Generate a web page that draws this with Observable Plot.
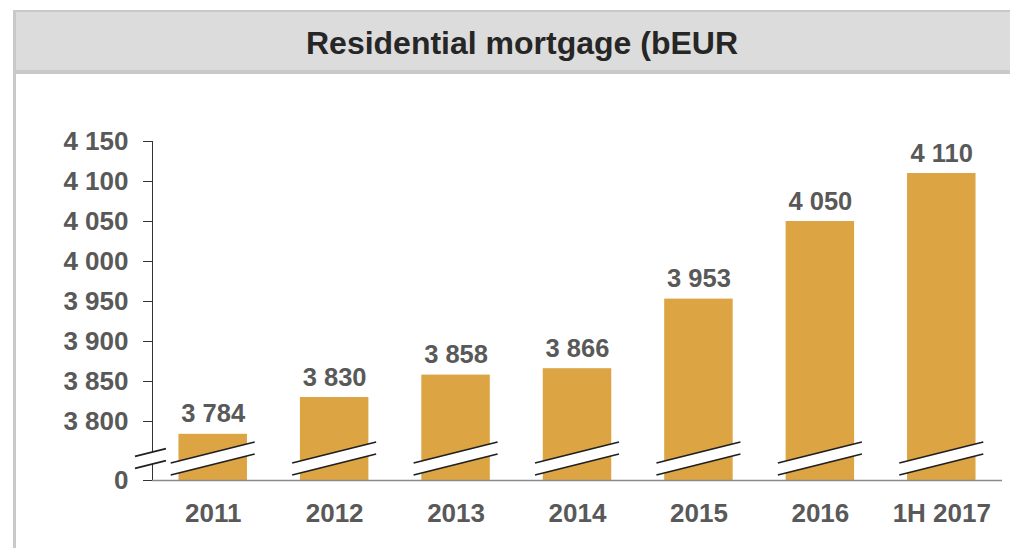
<!DOCTYPE html>
<html>
<head>
<meta charset="utf-8">
<script src="https://cdn.jsdelivr.net/npm/d3@7"></script>
<script src="https://cdn.jsdelivr.net/npm/@observablehq/plot@0.6"></script>
<style>
  html, body { margin: 0; padding: 0; background: #fff; width: 1010px; height: 548px; overflow: hidden; }
  body { position: relative; font-family: "Liberation Sans", Arial, sans-serif; }
  #frame { position: absolute; left: 13px; top: 10px; width: 997px; height: 538px; border-left: 3px solid #c9c9c9; box-sizing: border-box; }
  #titlebar { position: absolute; left: 13px; top: 10px; width: 997px; height: 64px; background: #dcdcdc;
              border-top: 2px solid #c9c9c9; border-bottom: 4px solid #c9c9c9; border-left: 3px solid #c9c9c9; box-sizing: border-box; }
  #title { position: absolute; left: 0; top: 15px; width: 994px; padding-left: 18px; box-sizing: border-box; text-align: center;
           font-size: 32px; line-height: 32px; font-weight: bold; color: #262626; white-space: nowrap; }
  #chart { position: absolute; left: 0; top: 75px; }
</style>
</head>
<body>
<div id="frame"></div>
<div id="titlebar"><div id="title">Residential mortgage (bEUR</div></div>
<div id="chart"></div>
<script>
// ---- data ----
const periods = ["2011", "2012", "2013", "2014", "2015", "2016", "1H 2017"];
const values = [3784, 3830, 3858, 3866, 3953, 4050, 4110];
const yTicks = [0, 3800, 3850, 3900, 3950, 4000, 4050, 4100, 4150];
const yBreakDomain = [0, 3740, 4150]; // broken axis: 0, then continuous from 3740 up

const data = periods.map((p, i) => ({period: p, value: values[i]}));
const fmt = v => d3.format(",")(v).replace(/,/g, " ");

const W = 1010, H = 473;
const mTop = 66, mBottom = 68, mLeft = 152, mRight = 8;
const base = H - mBottom;         // pixel of 0
const breakPx = base - 11;        // pixel where the continuous part begins

const chart = Plot.plot({
  width: W,
  height: H,
  marginTop: mTop,
  marginBottom: mBottom,
  marginLeft: mLeft,
  marginRight: mRight,
  style: {
    background: "transparent",
    fontFamily: "'Liberation Sans', Arial, sans-serif",
    fontSize: "26px",
    fontWeight: "bold",
    color: "#333"
  },
  x: {
    domain: periods,
    paddingInner: 0.436,
    paddingOuter: 0.218,
    round: false,
    tickSize: 0,
    tickPadding: 23,
    label: null
  },
  y: {
    type: "linear",
    domain: yBreakDomain,
    range: [base, breakPx, mTop],
    ticks: yTicks,
    tickFormat: fmt,
    tickSize: 9,
    tickPadding: 15,
    line: true,
    label: null
  },
  marks: [
    Plot.barY(data, {x: "period", y: "value", fill: "#dca443"}),
    Plot.ruleY([0], {stroke: "#8a8a8a", strokeWidth: 1.5}),
    Plot.text(data, {x: "period", y: "value", text: d => fmt(d.value), dy: -12, lineAnchor: "bottom",
                     fill: "#595959", fontSize: 25.5, fontWeight: "bold"})
  ]
});

// tick label colour
d3.select(chart).selectAll("text").attr("fill", "#595959");

// break decorations drawn from the library's scales
const xs = chart.scale("x"), ys = chart.scale("y");
const y0 = ys.apply(0);
const g = d3.select(chart).append("g");
const slope = 0.25;
function drawBreak(cx, hl) {
  const uy = y0 - 27.5, ly = y0 - 15.5;
  g.append("polygon")
    .attr("points", [
      [cx - hl, uy + hl * slope], [cx + hl, uy - hl * slope],
      [cx + hl, ly - hl * slope], [cx - hl, ly + hl * slope]
    ].map(p => p.join(",")).join(" "))
    .attr("fill", "#fff");
  for (const yy of [uy, ly]) {
    g.append("line")
      .attr("x1", cx - hl).attr("y1", yy + hl * slope)
      .attr("x2", cx + hl).attr("y2", yy - hl * slope)
      .attr("stroke", "#1f1f1f").attr("stroke-width", 1.8);
  }
}
for (const p of periods) drawBreak(xs.apply(p) + xs.bandwidth / 2, 42);
drawBreak(xs.range[0] - 1.5, 15.5);

document.getElementById("chart").appendChild(chart);
</script>
</body>
</html>
